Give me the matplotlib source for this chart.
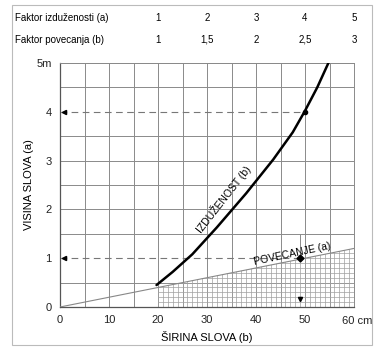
import numpy as np
import matplotlib
matplotlib.use("Agg")
import matplotlib.pyplot as plt
from matplotlib import transforms
from matplotlib.patches import Polygon, Rectangle

plt.rcParams['font.family'] = ['Liberation Sans', 'DejaVu Sans']

# --- data ---
width_cm = [0, 10, 20, 30, 40, 50, 60]
factor_a = ["1", "2", "3", "4", "5"]
factor_b = ["1", "1,5", "2", "2,5", "3"]
factor_x = [20, 30, 40, 50, 60]

# izduzenost curve (thick)
izd_x = [19.7, 23, 27, 32, 38, 43.5, 47.5, 50, 52.5, 55]
izd_y = [0.45, 0.72, 1.08, 1.63, 2.33, 3.02, 3.58, 4.02, 4.5, 5.05]

# povecanje line (thin, through origin)
pov_x = [0, 20, 60]
pov_y = [0, 0.4, 1.2]

fig = plt.figure(figsize=(3.78, 3.5), dpi=100)
ax = fig.add_axes([60/378, 1 - 307/350, 294/378, 244/350])

# outer frame
fig.patches.append(Rectangle((12/378, 5/350), 360/378, 340/350, transform=fig.transFigure,
                             fill=False, edgecolor='#bbbbbb', linewidth=0.8))

ax.set_xlim(0, 60)
ax.set_ylim(0, 5)

# coarse grid
for gx in np.arange(5, 61, 5):
    ax.axvline(gx, color='#8a8a8a', linewidth=0.7, zorder=1)
for gy in np.arange(0.5, 5.01, 0.5):
    if gy in (1.0, 4.0):
        continue
    ax.axhline(gy, color='#8a8a8a', linewidth=0.7, zorder=1)

# dashed reference lines
ax.plot([0, 50], [4, 4], color='#777777', linewidth=0.8, linestyle=(0, (6, 4)), zorder=2)
ax.plot([0, 49], [1, 1], color='#777777', linewidth=0.8, linestyle=(0, (6, 4)), zorder=2)
ax.plot([49, 49], [1, 1.5], color='#8a8a8a', linewidth=0.7, zorder=2)

# fine hatch under povecanje line between 20 and 60 cm
clip = Polygon([(20, 0), (20, 0.4), (60, 1.2), (60, 0)], closed=True,
               transform=ax.transData, facecolor='none', edgecolor='none')
ax.add_patch(clip)
for fx in np.arange(20, 60.01, 1):
    ln, = ax.plot([fx, fx], [0, 1.2], color='#a0a0a0', linewidth=0.5, zorder=1)
    ln.set_clip_path(clip)
for fy in np.arange(0, 1.21, 0.1):
    ln, = ax.plot([20, 60], [fy, fy], color='#a0a0a0', linewidth=0.5, zorder=1)
    ln.set_clip_path(clip)

# lines
ax.plot(pov_x, pov_y, color='#888888', linewidth=0.8, zorder=3)
ax.plot(izd_x, izd_y, color='black', linewidth=1.8, zorder=4,
        solid_joinstyle='round', solid_capstyle='round')

# markers
ax.plot([50], [4], 'o', color='black', markersize=3, zorder=5)
ax.plot([49], [1], 'D', color='black', markersize=3.5, zorder=5)
ax.plot([0.8], [4], '<', color='black', markersize=3, zorder=5, clip_on=False)
ax.plot([0.8], [1], '<', color='black', markersize=3, zorder=5, clip_on=False)
ax.plot([49], [0.17], 'v', color='black', markersize=3, zorder=5)

# curve labels
ax.text(33.3, 2.2, "IZDUŽENOST (b)", rotation=52, fontsize=7.5,
        ha='center', va='center', zorder=6)
ax.text(47.5, 1.08, "POVECANJE (a)", rotation=12, fontsize=7.5,
        ha='center', va='center', zorder=6)

# axes styling
for s in ['top', 'right']:
    ax.spines[s].set_color('#8a8a8a')
    ax.spines[s].set_linewidth(0.7)
for s in ['left', 'bottom']:
    ax.spines[s].set_color('#555555')
    ax.spines[s].set_linewidth(0.9)
ax.set_xticks(width_cm)
ax.set_xticklabels(["0", "10", "20", "30", "40", "50", ""])
ax.set_yticks([0, 1, 2, 3, 4, 5])
ax.set_yticklabels(["0", "1", "2", "3", "4", "5m"])
ax.tick_params(length=0, labelsize=8, pad=6, colors='#222222')
ax.text(57.6, -0.28, "60 cm", fontsize=8, ha='left', va='center', color='#222222', clip_on=False)

ax.set_xlabel("ŠIRINA SLOVA (b)", fontsize=8, labelpad=4)
ax.set_ylabel("VISINA SLOVA (a)", fontsize=8, labelpad=2)

# header table
tr = transforms.blended_transform_factory(ax.transData, fig.transFigure)
fig.text(15/378, 1 - 18/350, "Faktor izduženosti (a)", fontsize=7, va='center')
fig.text(15/378, 1 - 40/350, "Faktor povecanja (b)", fontsize=7, va='center')
for fx, a, b in zip(factor_x, factor_a, factor_b):
    ax.text(fx, 1 - 18/350, a, transform=tr, fontsize=7, ha='center', va='center')
    ax.text(fx, 1 - 40/350, b, transform=tr, fontsize=7, ha='center', va='center')

fig.savefig("out.png", dpi=100)
